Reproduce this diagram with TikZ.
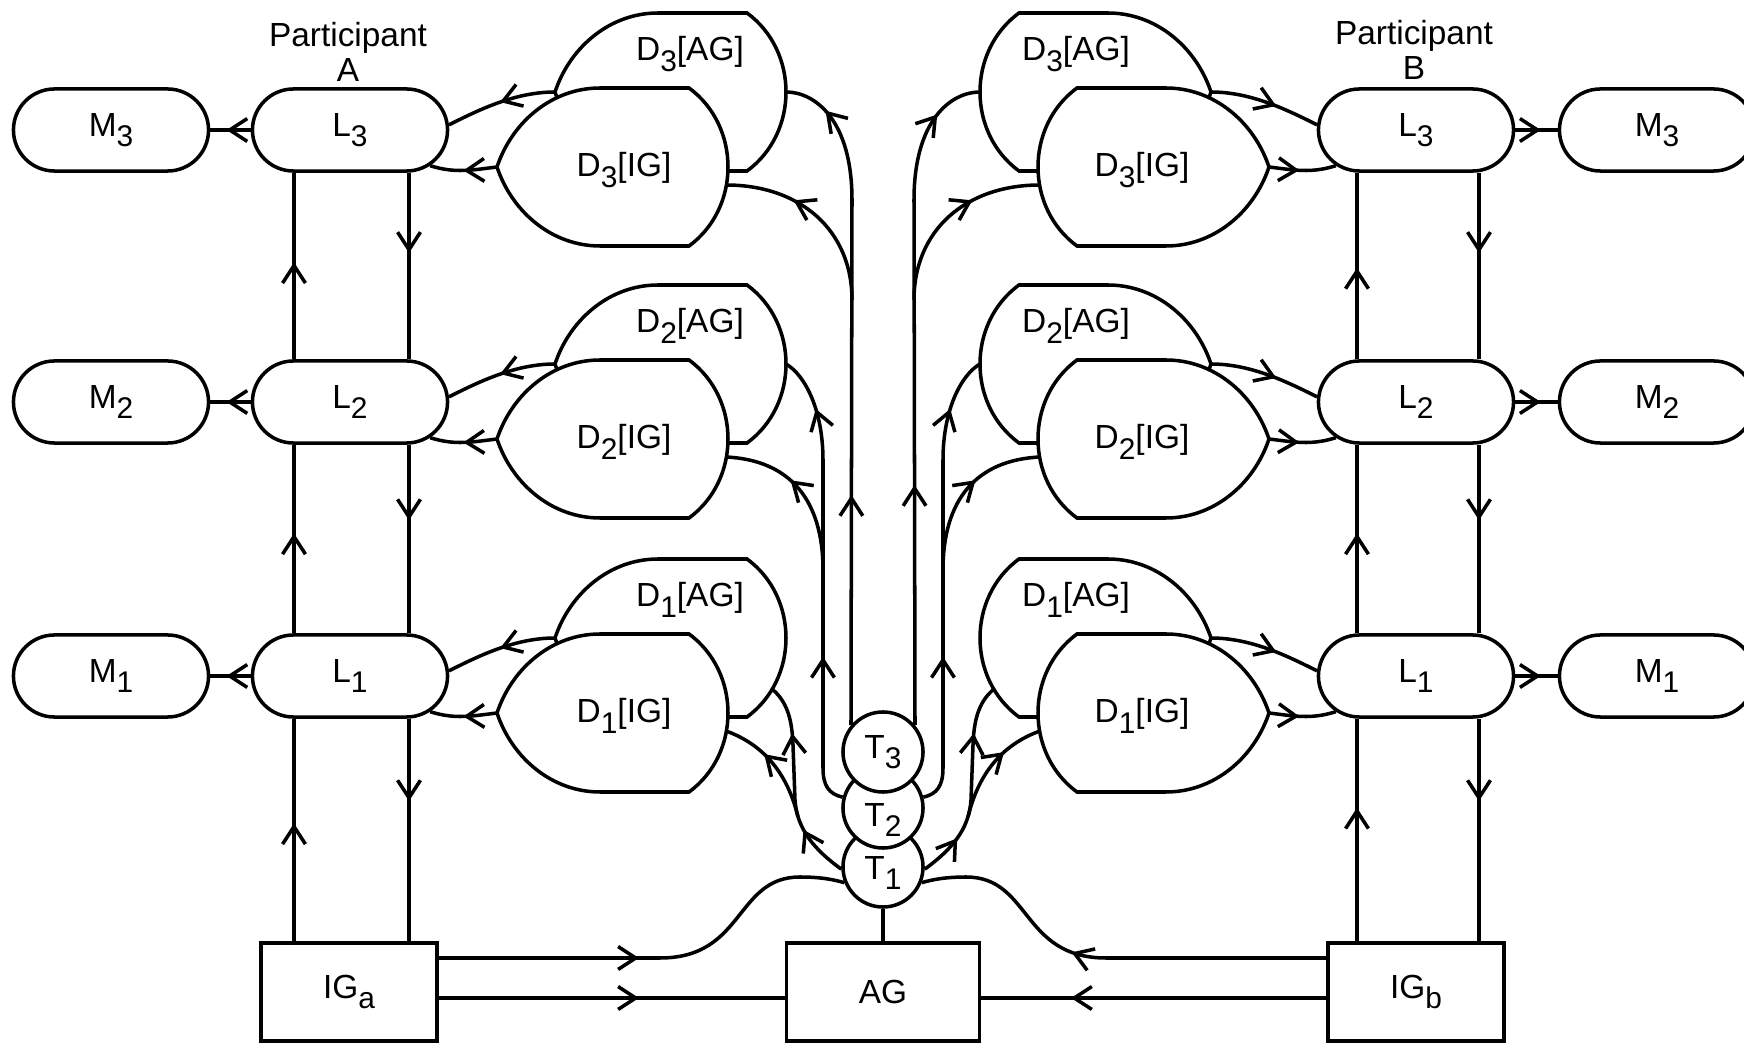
\documentclass[tikz,border=0pt]{standalone}
\usepackage{fontspec}
\setmainfont{Liberation Sans}
\usetikzlibrary{shapes.misc, arrows.meta, decorations.markings}

\newcommand{\lsub}[1]{\raisebox{-0.6ex}{\fontsize{8.5}{8.5}\selectfont #1}}

\tikzset{vtip/.tip={Straight Barb[length=5pt,width=6.5pt]}}
\tikzstyle{lbox} = [rounded rectangle, draw, fill=white, minimum width=1.95cm, minimum height=0.82cm, inner sep=0pt]
\tikzstyle{gbox} = [rectangle, draw, fill=white, minimum width=1.76cm, minimum height=0.98cm, inner sep=0pt]
\tikzstyle{tnode} = [circle, draw, fill=white, minimum size=0.8cm, inner sep=0pt]
\tikzstyle{lobe} = [draw, fill=white]
\tikzset{arr/.style={postaction={decorate, decoration={markings, mark=at position #1 with {\arrow{vtip}}}}}}
\tikzset{pics/dlobe/.style 2 args={code={
  \draw[lobe] (-115,0) .. controls (-100,-45) and (-60,-79) .. (-12,-79) -- (77,-79)
    .. controls (103,-60) and (116,-30) .. (116,0)
    .. controls (116,30) and (103,60) .. (77,79) -- (-12,79)
    .. controls (-60,79) and (-100,45) .. (-115,0) -- cycle;
  \coordinate (-tip) at (-115,0);
  \coordinate (-b0) at (116,0);
  \coordinate (-b2) at (114,18);
  \coordinate (-b3) at (102,51);
  \node (-lbl) at (#1) {#2};
}}}

\begin{document}
\begin{tikzpicture}[x=0.01cm, y=-0.01cm, line width=1pt, font=\fontsize{9.5}{10}\selectfont]
\useasboundingbox (0,0) rectangle (1744,1043);

% participant A
\node (pa) [align=center] at (348,52) {Participant\\A};
\node (la3) [lbox] at (350,130) {L\lsub{3}};
\node (la2) [lbox] at (350,402) {L\lsub{2}};
\node (la1) [lbox] at (350,676) {L\lsub{1}};
\node (ma3) [lbox] at (111,130) {M\lsub{3}};
\node (ma2) [lbox] at (111,402) {M\lsub{2}};
\node (ma1) [lbox] at (111,676) {M\lsub{1}};

% participant B
\node (pb) [align=center] at (1414,50) {Participant\\B};
\node (lb3) [lbox] at (1416,130) {L\lsub{3}};
\node (lb2) [lbox] at (1416,402) {L\lsub{2}};
\node (lb1) [lbox] at (1416,676) {L\lsub{1}};
\node (mb3) [lbox] at (1657,130) {M\lsub{3}};
\node (mb2) [lbox] at (1657,402) {M\lsub{2}};
\node (mb1) [lbox] at (1657,676) {M\lsub{1}};

% generators
\node (iga) [gbox] at (349,992) {IG\lsub{a}};
\node (ag) [gbox, minimum width=1.93cm] at (883,992) {AG};
\node (igb) [gbox] at (1416,992) {IG\lsub{b}};

% T stack
\node (t1) [tnode, label={[yshift=-0.06cm]center:T\lsub{1}}] at (883,867) {};
\node (t2) [tnode, label={[yshift=-0.12cm]center:T\lsub{2}}] at (883,808) {};
\node (t3) [tnode] at (883,752) {T\lsub{3}};

% D lobes, side A
\pic (d3ag) at (670,92) {dlobe={20,-38}{D\lsub{3}[AG]}};
\pic (d3ig) at (612,167) {dlobe={12,3}{D\lsub{3}[IG]}};
\pic (d2ag) at (670,364) {dlobe={20,-38}{D\lsub{2}[AG]}};
\pic (d2ig) at (612,439) {dlobe={12,3}{D\lsub{2}[IG]}};
\pic (d1ag) at (670,638) {dlobe={20,-38}{D\lsub{1}[AG]}};
\pic (d1ig) at (612,713) {dlobe={12,3}{D\lsub{1}[IG]}};

% D lobes, side B
\pic[xscale=-1] (e3ag) at (1096,92) {dlobe={20,-38}{D\lsub{3}[AG]}};
\pic[xscale=-1] (e3ig) at (1154,167) {dlobe={12,3}{D\lsub{3}[IG]}};
\pic[xscale=-1] (e2ag) at (1096,364) {dlobe={20,-38}{D\lsub{2}[AG]}};
\pic[xscale=-1] (e2ig) at (1154,439) {dlobe={12,3}{D\lsub{2}[IG]}};
\pic[xscale=-1] (e1ag) at (1096,638) {dlobe={20,-38}{D\lsub{1}[AG]}};
\pic[xscale=-1] (e1ig) at (1154,713) {dlobe={12,3}{D\lsub{1}[IG]}};

% columns
\coordinate (au) at (294,0);
\coordinate (ad) at (409,0);
\coordinate (bu) at (1357,0);
\coordinate (bd) at (1479,0);

% Arrows, column A
\draw[arr=0.53] (au |- iga.north) -- (au |- la1.south);
\draw[arr=0.53] (au |- la1.north) -- (au |- la2.south);
\draw[arr=0.52] (au |- la2.north) -- (au |- la3.south);
\draw[arr=0.43] (ad |- la3.south) -- (ad |- la2.north);
\draw[arr=0.4] (ad |- la2.south) -- (ad |- la1.north);
\draw[arr=0.37] (ad |- la1.south) -- (ad |- iga.north);
\draw[arr=0.6] (la3.west) -- (ma3.east);
\draw[arr=0.6] (la2.west) -- (ma2.east);
\draw[arr=0.6] (la1.west) -- (ma1.east);

% Arrows, column B
\draw[arr=0.6] (bu |- igb.north) -- (bu |- lb1.south);
\draw[arr=0.53] (bu |- lb1.north) -- (bu |- lb2.south);
\draw[arr=0.49] (bu |- lb2.north) -- (bu |- lb3.south);
\draw[arr=0.43] (bd |- lb3.south) -- (bd |- lb2.north);
\draw[arr=0.4] (bd |- lb2.south) -- (bd |- lb1.north);
\draw[arr=0.37] (bd |- lb1.south) -- (bd |- igb.north);
\draw[arr=0.6] (lb3.east) -- (mb3.west);
\draw[arr=0.6] (lb2.east) -- (mb2.west);
\draw[arr=0.6] (lb1.east) -- (mb1.west);

% lobes to L, side A
\draw[arr=0.5] (d3ag-tip) .. controls +(-40,0) and +(30,-15) .. (la3.3);
\draw[arr=0.5] (d3ig-tip) .. controls +(-25,3) and +(25,8) .. (la3.-24);
\draw[arr=0.5] (d2ag-tip) .. controls +(-40,0) and +(30,-15) .. (la2.3);
\draw[arr=0.5] (d2ig-tip) .. controls +(-25,3) and +(25,8) .. (la2.-24);
\draw[arr=0.5] (d1ag-tip) .. controls +(-40,0) and +(30,-15) .. (la1.3);
\draw[arr=0.5] (d1ig-tip) .. controls +(-25,3) and +(25,8) .. (la1.-24);

% lobes to L, side B
\draw[arr=0.6] (e3ag-tip) .. controls +(40,0) and +(-30,-15) .. (lb3.177);
\draw[arr=0.45] (e3ig-tip) .. controls +(25,3) and +(-25,8) .. (lb3.204);
\draw[arr=0.6] (e2ag-tip) .. controls +(40,0) and +(-30,-15) .. (lb2.177);
\draw[arr=0.45] (e2ig-tip) .. controls +(25,3) and +(-25,8) .. (lb2.204);
\draw[arr=0.6] (e1ag-tip) .. controls +(40,0) and +(-30,-15) .. (lb1.177);
\draw[arr=0.45] (e1ig-tip) .. controls +(25,3) and +(-25,8) .. (lb1.204);

% T lines, side A
\coordinate (s3l) at (852,300);
\coordinate (s2l) at (823,570);
\coordinate (s1l) at (798,817);
\draw[arr=2.3cm, arr=-0.45cm] (t3.140) -- (852,200) .. controls (852,120) and (815,92) .. (d3ag-b0);
\draw[arr=-0.7cm] (s3l) .. controls (852,230) and (800,185) .. (d3ig-b2);
\draw[arr=1.5cm, arr=-0.55cm] (t2.165) .. controls (829,794) and (823,786) .. (823,768) -- (823,460) .. controls (823,410) and (805,375) .. (d2ag-b0);
\draw[arr=-0.7cm] (s2l) .. controls (823,500) and (790,460) .. (d2ig-b2);
\draw[arr=0.55cm, arr=-0.5cm] (t1.183) .. controls (815,850) and (797,830) .. (795,800) -- (793,745) .. controls (792,715) and (785,700) .. (d1ag-b3);
\draw[arr=-0.45cm] (s1l) .. controls (788,775) and (765,745) .. (d1ig-b2);

% T lines, side B
\coordinate (s3r) at (914,300);
\coordinate (s2r) at (943,570);
\coordinate (s1r) at (968,817);
\draw[arr=2.4cm, arr=-0.5cm] (t3.40) -- (914,200) .. controls (914,120) and (951,92) .. (e3ag-b0);
\draw[arr=-0.7cm] (s3r) .. controls (914,230) and (966,185) .. (e3ig-b2);
\draw[arr=1.5cm, arr=-0.55cm] (t2.15) .. controls (937,794) and (943,786) .. (943,768) -- (943,460) .. controls (943,410) and (961,375) .. (e2ag-b0);
\draw[arr=-0.7cm] (s2r) .. controls (943,500) and (976,460) .. (e2ig-b2);
\draw[arr=0.45cm, arr=-0.5cm] (t1.-3) .. controls (951,850) and (969,830) .. (971,800) -- (973,745) .. controls (974,715) and (981,700) .. (e1ag-b3);
\draw[arr=-0.42cm] (s1r) .. controls (978,775) and (1001,745) .. (e1ig-b2);

% generators to AG and T1
\draw[arr=2.0cm] ([shift={(0,-34)}]iga.east) -- (660,958) .. controls (745,958) and (735,877) .. (800,877) .. controls (822,877) and (835,880) .. (t1.202);
\draw[arr=2.0cm] ([shift={(0,6)}]iga.east) -- ([shift={(0,6)}]ag.west);
\draw[arr=2.55cm] ([shift={(0,-34)}]igb.west) -- (1106,958) .. controls (1021,958) and (1031,877) .. (966,877) .. controls (944,877) and (931,880) .. (t1.-22);
\draw[arr=2.55cm] ([shift={(0,6)}]igb.west) -- ([shift={(0,6)}]ag.east);
\draw (t1.south) -- (ag.north);

\end{tikzpicture}
\end{document}
